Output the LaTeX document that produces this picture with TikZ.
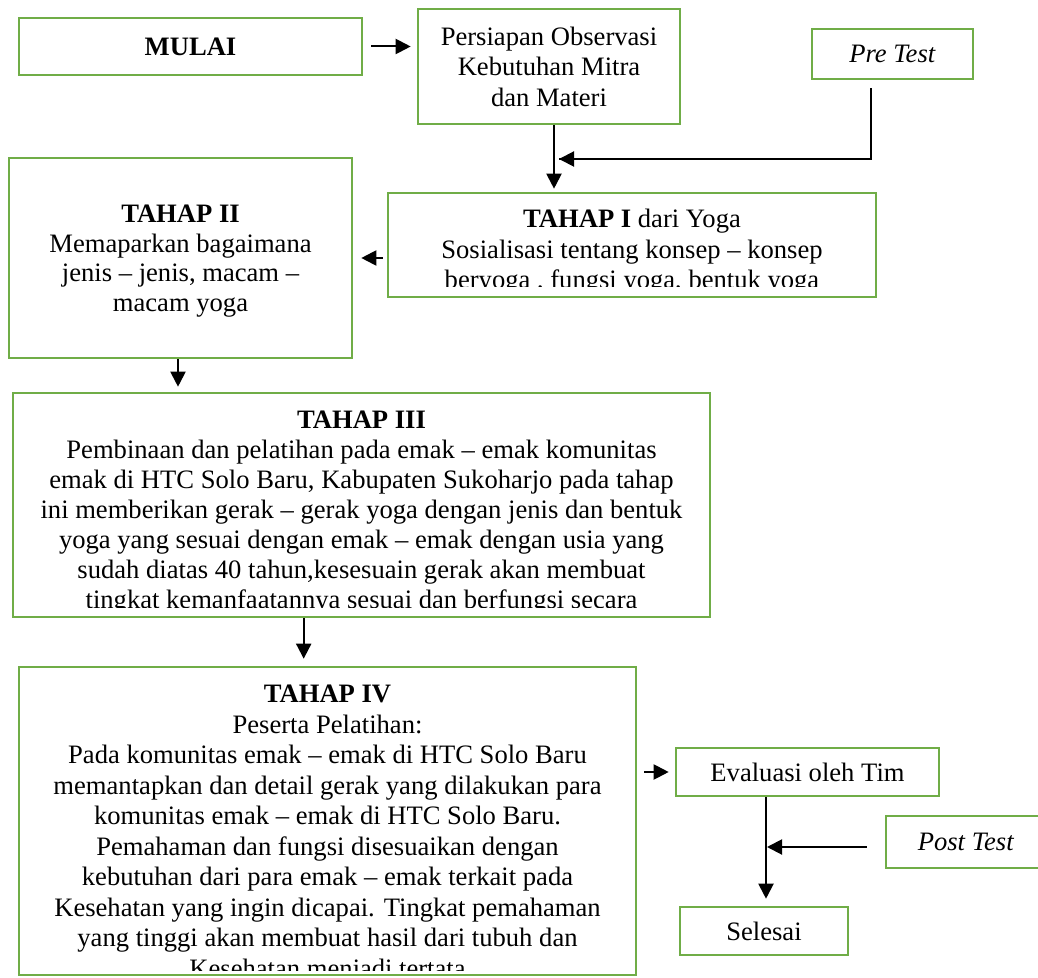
\documentclass[tikz,border=0pt]{standalone}
\usepackage{fontspec}
\setmainfont{Liberation Serif}
\usetikzlibrary{arrows.meta}
\definecolor{bgreen}{HTML}{70AD47}
\begin{document}
\begin{tikzpicture}[x=0.5pt,y=-0.5pt,
  box/.style={draw=bgreen, line width=1.3pt, inner sep=0pt, align=center, font=\fontsize{13.3}{15.25}\selectfont},
  txt/.style={inner sep=0pt, align=center, anchor=north, font=\fontsize{13.3}{15.25}\selectfont},
  arr/.style={-{Triangle[length=7.5pt,width=7.5pt]}, line width=1pt},
  thin/.style={line width=0.6pt}]
\useasboundingbox (0,0) rectangle (1038,978);
\fill[white] (0,0) rectangle (1038,978);

\node[box, minimum width=171.5pt, minimum height=28.5pt] (mulai) at (190.5,46.5) {\textbf{MULAI}};
\node[box, minimum width=131pt, minimum height=57.5pt] (persiapan) at (549,66.5) {Persiapan Observasi\\Kebutuhan Mitra\\dan Materi};
\node[box, minimum width=80.5pt, minimum height=25pt] (pre) at (892.5,54) {\textit{Pre Test}};
\node[box, minimum width=171.5pt, minimum height=100pt] (t2) at (180.5,258) {};
\node[txt, font=\fontsize{13.3}{14.7}\selectfont] (t2text) at (180.5,205) {\textbf{TAHAP II}\\Memaparkan bagaimana\\jenis – jenis, macam –\\macam yoga};
\node[box, minimum width=244pt, minimum height=52pt] (t1) at (632,245) {};
\node[box, minimum width=348.5pt, minimum height=112pt] (t3) at (361.5,505) {};
\node[box, minimum width=308.5pt, minimum height=154pt] (t4) at (327.5,821) {};
\node[box, minimum width=131.5pt, minimum height=24pt] (eval) at (807.5,772) {Evaluasi oleh Tim};
\node[box, minimum width=80pt, minimum height=26pt] (post) at (966,842) {\textit{Post Test}};
\node[box, minimum width=84pt, minimum height=24pt] (selesai) at (764,931) {Selesai};

\begin{scope}
\clip (390,195) rectangle (874,287);
\node[txt] (t1text) at (632,209) {\textbf{TAHAP I} dari Yoga\\Sosialisasi tentang konsep – konsep\\beryoga , fungsi yoga, bentuk yoga};
\end{scope}
\begin{scope}
\clip (15,395) rectangle (708,607);
\node[txt, font=\fontsize{13.3}{15}\selectfont] (t3text) at (361.5,411) {\textbf{TAHAP III}\\Pembinaan dan pelatihan pada emak – emak komunitas\\emak di HTC Solo Baru, Kabupaten Sukoharjo pada tahap\\ini memberikan gerak – gerak yoga dengan jenis dan bentuk\\yoga yang sesuai dengan emak – emak dengan usia yang\\sudah diatas 40 tahun,kesesuain gerak akan membuat\\tingkat kemanfaatannya sesuai dan berfungsi secara};
\end{scope}
\begin{scope}
\clip (21,669) rectangle (634,970);
\node[txt] (t4text) at (327.5,685) {\textbf{TAHAP IV}\\Peserta Pelatihan:\\Pada komunitas emak – emak di HTC Solo Baru\\memantapkan dan detail gerak yang dilakukan para\\komunitas emak – emak di HTC Solo Baru.\\Pemahaman dan fungsi disesuaikan dengan\\kebutuhan dari para emak – emak terkait pada\\Kesehatan yang ingin dicapai. Tingkat pemahaman\\yang tinggi akan membuat hasil dari tubuh dan\\Kesehatan menjadi tertata};
\end{scope}

\coordinate (pj) at (559,159);
\draw[arr, shorten <=4pt, shorten >=3pt] (mulai.east) -- (mulai.east -| persiapan.west);
\draw[arr, shorten >=1.5pt] ([xshift=2.5pt]persiapan.south) -- ([xshift=2.5pt]persiapan.south |- t1.north);
\draw[thin] ([xshift=-10.75pt,yshift=-4pt]pre.south) |- (pj);
\draw[arr] (pre.south |- pj) ++(-10.75pt,0) -- (pj);
\draw[arr, shorten <=2pt, shorten >=4pt] (t1.west |- t2.east) -- (t2.east);
\draw[arr, shorten >=2.5pt] ([xshift=-1.25pt]t2.south) -- ([xshift=-1.25pt]t2.south |- t3.north);
\draw[arr, shorten >=3.5pt] ([xshift=146pt]t3.south west) -- ([xshift=146pt]t3.south west |- t4.north);
\draw[arr, shorten <=3.5pt, shorten >=3pt] (t4.east |- eval.west) -- (eval.west);
\draw[arr, shorten >=3.5pt] ([xshift=1pt]eval.south -| selesai.north) -- ([xshift=1pt]selesai.north);
\draw[arr, shorten <=9pt, shorten >=1.5pt] ([yshift=-2.5pt]post.west) -- ([yshift=-2.5pt]post.west -| selesai.north);
\end{tikzpicture}
\end{document}
